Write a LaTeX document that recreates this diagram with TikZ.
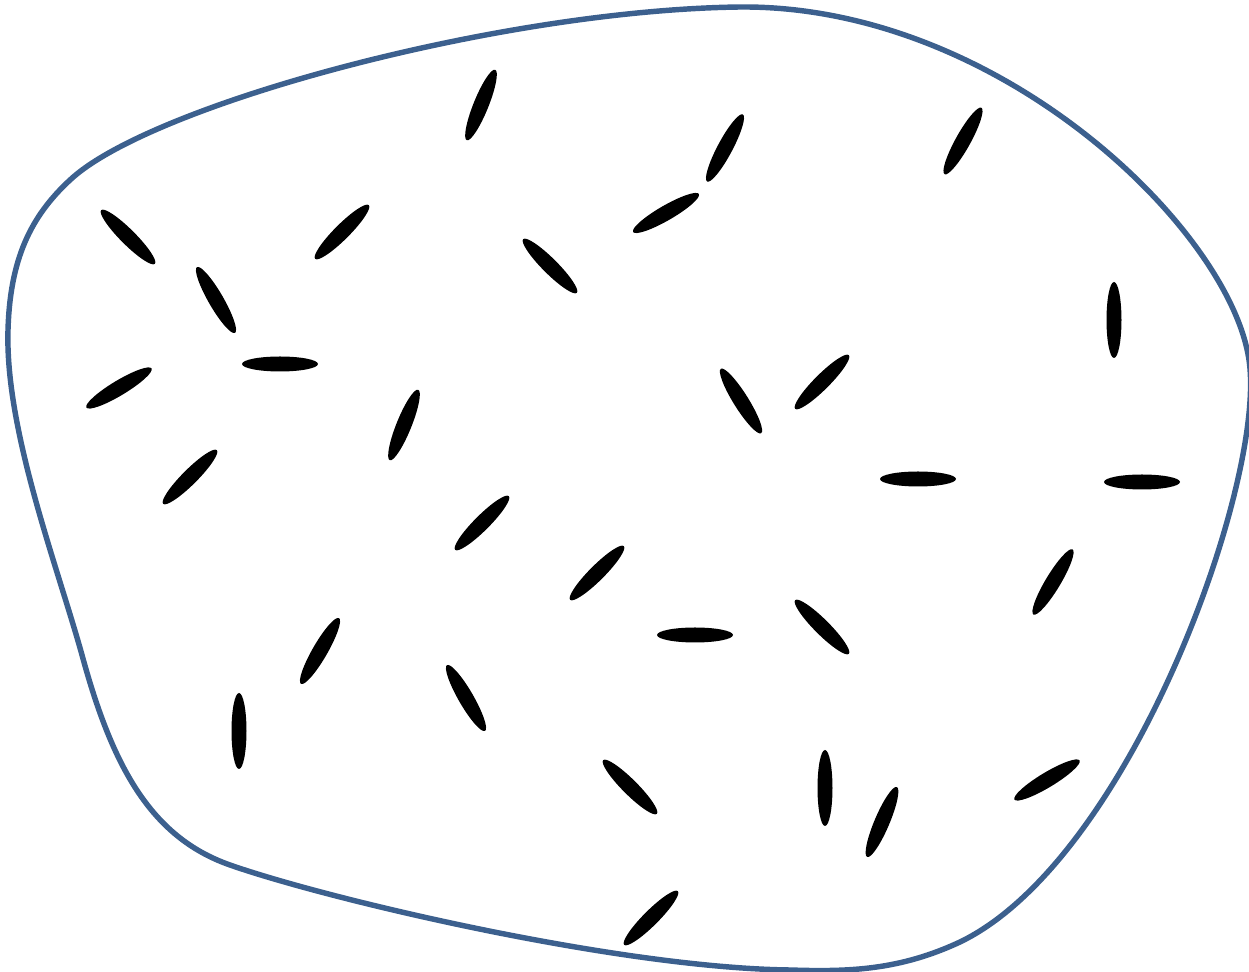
\documentclass[tikz,border=0pt]{standalone}
\usepackage{tikz}

\definecolor{blobblue}{RGB}{60,96,142}

\begin{document}
\begin{tikzpicture}[x=0.02cm, y=-0.02cm]

\useasboundingbox (0,0) rectangle (1249,972);

% Outline
\draw[line width=3.1pt, blobblue]
  (70,180) .. controls (150,105) and (500,10) .. (740,7)
  .. controls (1000,5) and (1230,230) .. (1249,360)
  .. controls (1267,480) and (1130,860) .. (960,942)
  .. controls (900,970) and (850,972) .. (790,970)
  .. controls (620,968) and (330,900) .. (230,865)
  .. controls (150,837) and (112,765) .. (82,655)
  .. controls (57,565) and (5,430) .. (8,330)
  .. controls (10,260) and (30,217) .. (70,180) -- cycle;

% Molecules
\foreach \mx/\my/\ang in {
  481/105/68, 725/148/62, 963/141/61, 128/237/-45, 342/232/45,
  666/213/30, 550/266/-45, 216/300/-60, 280/364/0, 1114/320/90,
  119/388/31, 404/425/68, 741/401/-58, 822/382/45, 190/477/45,
  918/479/0, 1142/482/0, 482/523/45, 597/573/45, 1053/582/59,
  695/635/0, 822/627/-45, 320/651/60, 466/698/-60, 239/731/90,
  630/787/-45, 825/788/90, 882/822/67, 1047/780/31, 651/918/45}
  \fill[black, rotate around={\ang:(\mx,\my)}] (\mx,\my) ellipse (38 and 7.5);

\end{tikzpicture}
\end{document}
